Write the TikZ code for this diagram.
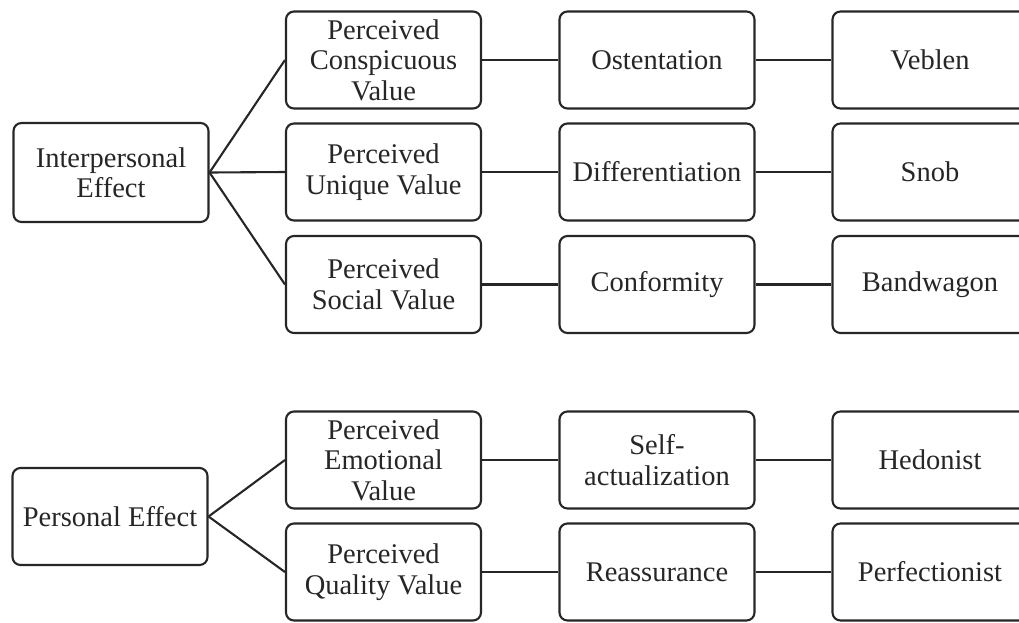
\documentclass[tikz,border=0pt]{standalone}
\usepackage{fontspec}
\setmainfont{Liberation Serif}
\begin{document}
\begin{tikzpicture}[x=1pt,y=-1pt,
  box/.style={draw=black!85, line width=2.1pt, rounded corners=8pt, align=center,
    font=\fontsize{28.5}{30.5}\selectfont, text=black!85, inner sep=0pt,
    minimum width=195pt, minimum height=97pt},
  link/.style={draw=black!85, line width=2.1pt}]
\useasboundingbox (0,0) rectangle (1019,622);
% left roots
\node[box, minimum height=99pt] (ie) at (111,172.5) {Interpersonal\\Effect};
\node[box] (pe) at (110,516.5) {Personal Effect};
% column 2
\node[box] (a2) at (383.5,60) {Perceived\\Conspicuous\\Value};
\node[box] (b2) at (383.5,172) {Perceived\\Unique Value};
\node[box] (c2) at (383.5,284.5) {Perceived\\Social Value};
\node[box] (d2) at (383.5,460) {Perceived\\Emotional\\Value};
\node[box] (e2) at (383.5,572) {Perceived\\Quality Value};
% column 3
\node[box] (a3) at (657,60) {Ostentation};
\node[box] (b3) at (657,172) {Differentiation};
\node[box] (c3) at (657,284.5) {Conformity};
\node[box] (d3) at (657,460) {Self-\\actualization};
\node[box] (e3) at (657,572) {Reassurance};
% column 4
\node[box] (a4) at (930,60) {Veblen};
\node[box] (b4) at (930,172) {Snob};
\node[box] (c4) at (930,284.5) {Bandwagon};
\node[box] (d4) at (930,460) {Hedonist};
\node[box] (e4) at (930,572) {Perfectionist};
% connectors
\draw[link] (ie.east) -- (a2.west);
\draw[link] (ie.east) -- (b2.west);
\draw[link] (ie.east) -- (c2.west);
\draw[link] (pe.east) -- (d2.west);
\draw[link] (pe.east) -- (e2.west);
\foreach \r in {a,b,c,d,e}{
  \draw[link] (\r2.east) -- (\r3.west);
  \draw[link] (\r3.east) -- (\r4.west);
}
\end{tikzpicture}
\end{document}
